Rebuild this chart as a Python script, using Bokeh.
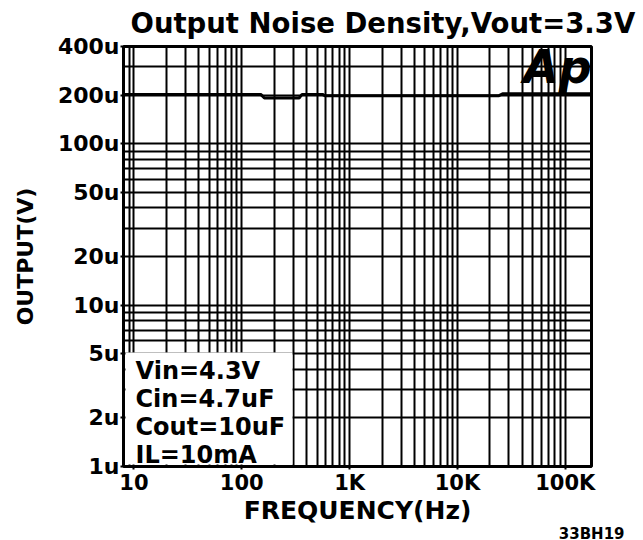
from bokeh.plotting import figure
from bokeh.models import FixedTicker, Label, BoxAnnotation, Title
from bokeh.embed import file_html
from bokeh.resources import INLINE

# ---- data ----
freq_hz = [8, 150, 162, 340, 362, 560, 590, 24000, 26500, 175000]
noise_uv = [202, 202, 192, 192, 202, 202, 198, 198, 204, 204]

x_major = [10, 100, 1000, 10000, 100000]
x_major_labels = ["10", "100", "1K", "10K", "100K"]
y_major = [1, 2, 5, 10, 20, 50, 100, 200, 400]
y_major_labels = ["1u", "2u", "5u", "10u", "20u", "50u", "100u", "200u", "400u"]

conditions = ["Vin=4.3V", "Cin=4.7uF", "Cout=10uF", "IL=10mA"]
title_text = "Output Noise Density,Vout=3.3V"
x_title = "FREQUENCY(Hz)"
y_title = "OUTPUT(V)"
code_text = "33BH19"
logo_text = "Ap"

x_start, x_end = 8, 175000
y_start, y_end = 1, 400

x_minor = [m * 10 ** k for k in range(0, 6) for m in range(1, 10)
           if x_start <= m * 10 ** k <= x_end and m * 10 ** k not in x_major]
y_minor = [m * 10 ** k for k in range(0, 3) for m in range(1, 10)
           if y_start <= m * 10 ** k <= y_end and m * 10 ** k not in y_major]

FONT = "DejaVu Sans"

p = figure(width=643, height=540, x_axis_type="log", y_axis_type="log",
           x_range=(x_start, x_end), y_range=(y_start, y_end),
           title=title_text,
           output_backend="svg", toolbar_location=None,
           min_border_left=123, min_border_right=52,
           min_border_top=46, min_border_bottom=74)
p.background_fill_color = "white"
p.border_fill_color = "white"
p.outline_line_color = "black"
p.outline_line_width = 3

p.title.text_font = FONT
p.title.text_font_style = "bold"
p.title.text_font_size = "27.5px"
p.title.text_color = "black"
p.title.align = "left"
p.title.vertical_align = "top"
p.title.offset = 7
p.title.standoff = 12

p.xaxis.ticker = FixedTicker(ticks=x_major, minor_ticks=x_minor)
p.yaxis.ticker = FixedTicker(ticks=y_major, minor_ticks=y_minor)
p.xaxis.major_label_overrides = dict(zip(x_major, x_major_labels))
p.yaxis.major_label_overrides = dict(zip(y_major, y_major_labels))

for ax in (p.xaxis, p.yaxis):
    ax.axis_line_color = None
    ax.major_tick_in = 0
    ax.major_tick_out = 3
    ax.major_tick_line_color = "black"
    ax.major_tick_line_width = 2
    ax.minor_tick_line_color = None
    ax.major_label_text_font = FONT
    ax.major_label_text_font_style = "bold"
    ax.major_label_text_font_size = "21px"
    ax.major_label_text_color = "black"
    ax.axis_label_text_font = FONT
    ax.axis_label_text_font_style = "bold"
    ax.axis_label_text_color = "black"

p.yaxis.major_label_text_font_size = "22px"
p.xaxis.major_label_standoff = 0
p.yaxis.major_label_standoff = 0
p.xaxis.axis_label = x_title
p.yaxis.axis_label = y_title
p.xaxis.axis_label_text_font_size = "25px"
p.yaxis.axis_label_text_font_size = "22px"
p.xaxis.axis_label_standoff = -2
p.yaxis.axis_label_standoff = 17

p.add_layout(Title(text=code_text, align="right", offset=-33, standoff=-10,
                   text_font=FONT, text_font_style="bold",
                   text_font_size="15px", text_color="black"), "below")

for g in (p.xgrid, p.ygrid):
    g.grid_line_color = "black"
    g.grid_line_width = 2
    g.grid_line_alpha = 1.0
    g.minor_grid_line_color = "black"
    g.minor_grid_line_width = 2
    g.minor_grid_line_alpha = 1.0

p.line(freq_hz, noise_uv, line_color="black", line_width=3)

# conditions box
p.add_layout(BoxAnnotation(left=2, right=169, bottom=2, top=114,
                           left_units="screen", right_units="screen",
                           bottom_units="screen", top_units="screen",
                           fill_color="white", fill_alpha=1.0, line_color=None))
for i, t in enumerate(conditions):
    p.add_layout(Label(x=12, y=96 - 28.3 * i, x_units="screen", y_units="screen",
                       text=t, text_font=FONT, text_font_style="bold",
                       text_font_size="24px", text_color="black",
                       text_baseline="middle"))

# logo
p.add_layout(Label(x=434, y=400, x_units="screen", y_units="screen",
                   text=logo_text, text_font=FONT, text_font_style="bold italic",
                   text_font_size="46px", text_color="black",
                   text_align="center", text_baseline="middle"))

open("out.html", "w").write(file_html(p, INLINE))
